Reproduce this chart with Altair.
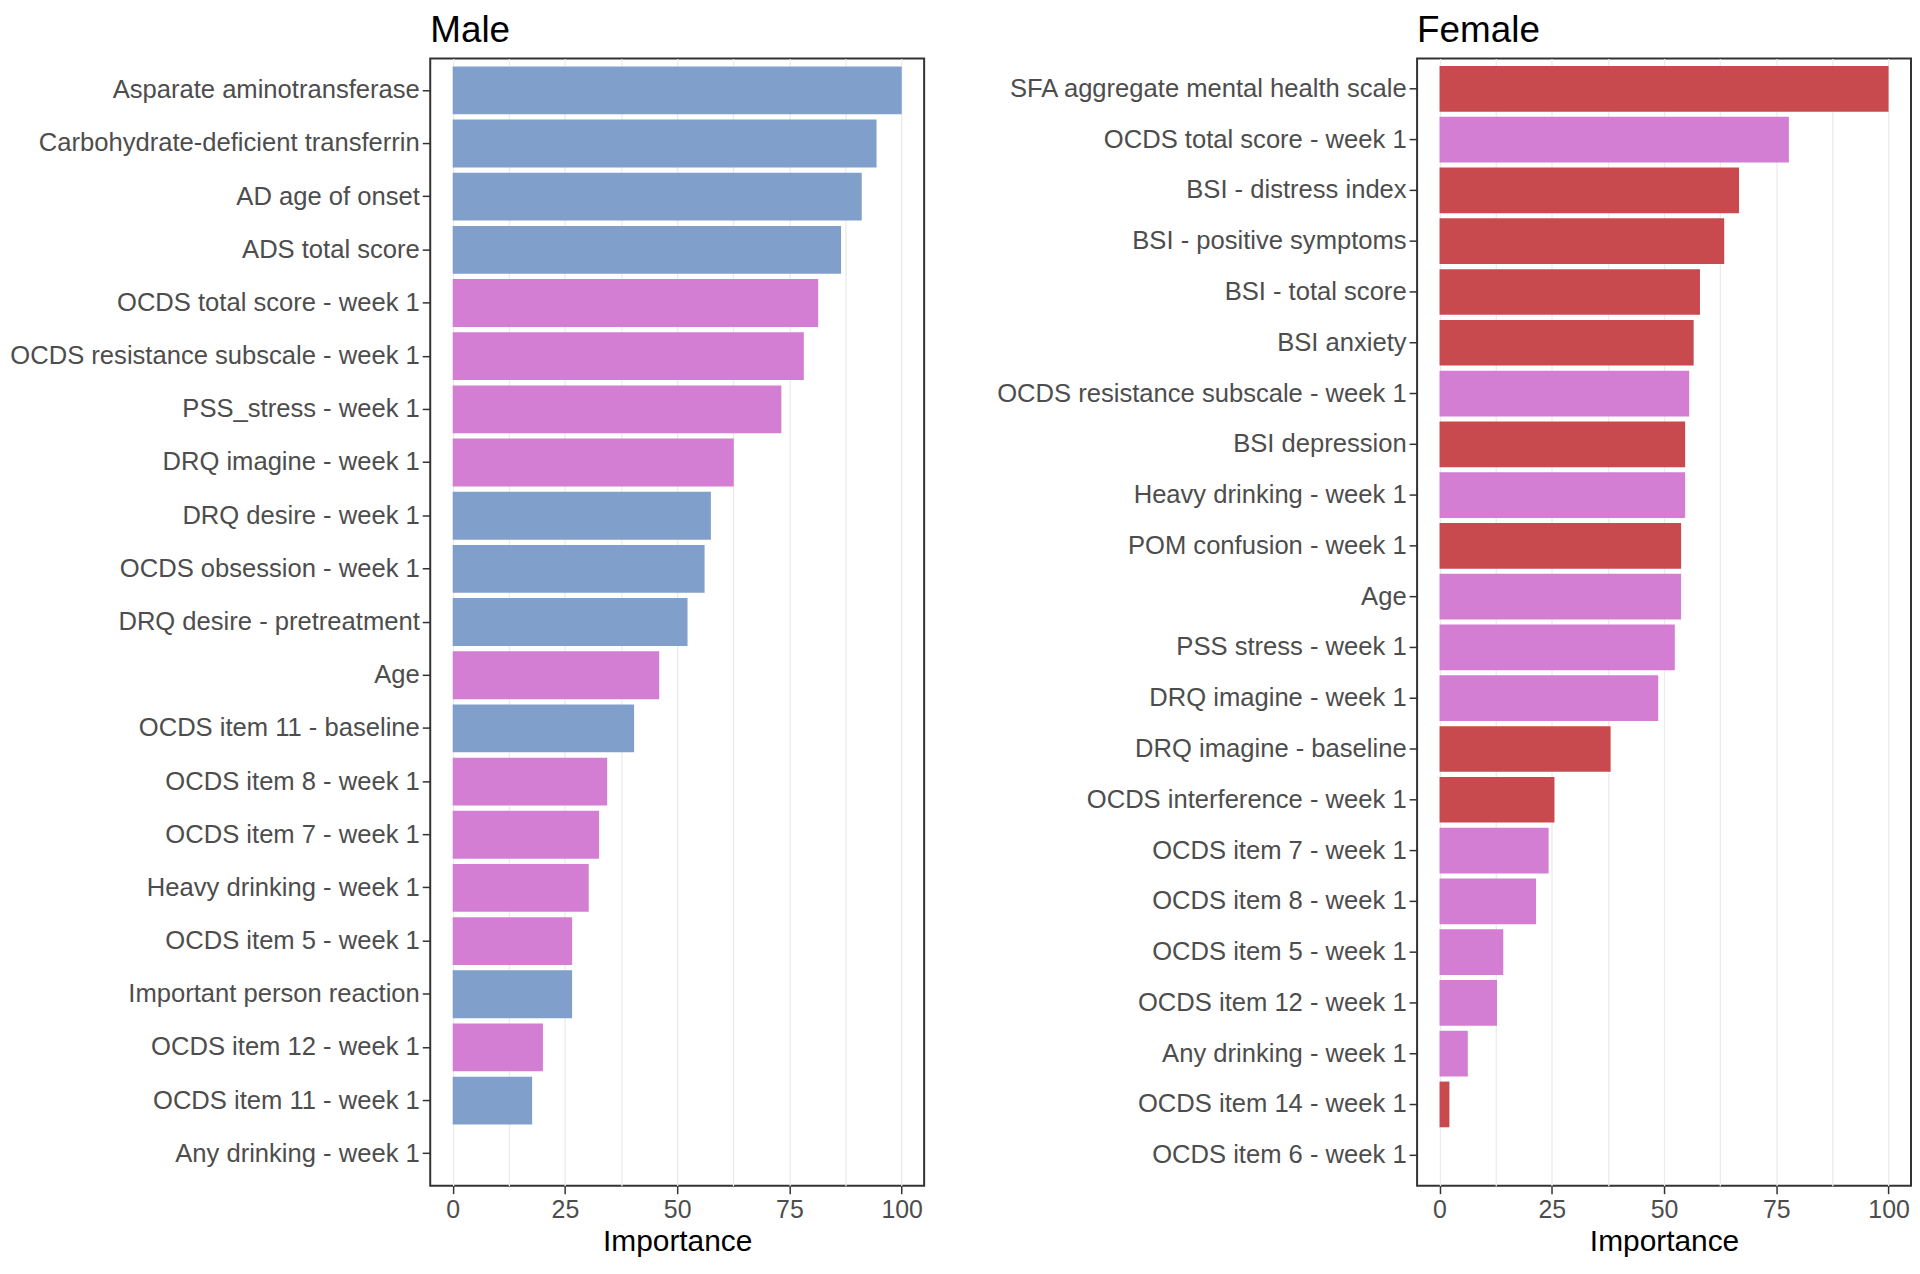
import altair as alt
import pandas as pd

male_features = [
    "Asparate aminotransferase", "Carbohydrate-deficient transferrin", "AD age of onset",
    "ADS total score", "OCDS total score - week 1", "OCDS resistance subscale - week 1",
    "PSS_stress - week 1", "DRQ imagine - week 1", "DRQ desire - week 1",
    "OCDS obsession - week 1", "DRQ desire - pretreatment", "Age", "OCDS item 11 - baseline",
    "OCDS item 8 - week 1", "OCDS item 7 - week 1", "Heavy drinking - week 1",
    "OCDS item 5 - week 1", "Important person reaction", "OCDS item 12 - week 1",
    "OCDS item 11 - week 1", "Any drinking - week 1",
]
male_importance = [100, 94.4, 91.1, 86.5, 81.4, 78.2, 73.2, 62.6, 57.5, 56.1, 52.3, 46.0,
                   40.4, 34.4, 32.6, 30.3, 26.6, 26.6, 20.1, 17.7, 0]
male_group = ["blue", "blue", "blue", "blue", "pink", "pink", "pink", "pink", "blue", "blue",
              "blue", "pink", "blue", "pink", "pink", "pink", "pink", "blue", "pink", "blue", "blue"]

female_features = [
    "SFA aggregate mental health scale", "OCDS total score - week 1", "BSI - distress index",
    "BSI - positive symptoms", "BSI - total score", "BSI anxiety",
    "OCDS resistance subscale - week 1", "BSI depression", "Heavy drinking - week 1",
    "POM confusion - week 1", "Age", "PSS stress - week 1", "DRQ imagine - week 1",
    "DRQ imagine - baseline", "OCDS interference - week 1", "OCDS item 7 - week 1",
    "OCDS item 8 - week 1", "OCDS item 5 - week 1", "OCDS item 12 - week 1",
    "Any drinking - week 1", "OCDS item 14 - week 1", "OCDS item 6 - week 1",
]
female_importance = [100, 77.8, 66.7, 63.4, 58.0, 56.6, 55.6, 54.7, 54.7, 53.8, 53.8, 52.4,
                     48.7, 38.1, 25.6, 24.3, 21.5, 14.2, 12.8, 6.3, 2.2, 0]
female_group = ["red", "pink", "red", "red", "red", "red", "pink", "red", "pink", "red", "pink",
                "pink", "pink", "red", "red", "pink", "pink", "pink", "pink", "pink", "red", "red"]

x_ticks = [0, 12.5, 25, 37.5, 50, 62.5, 75, 87.5, 100]

FONT = "Liberation Sans"
W, H = 496, 1132


def panel(title, feats, vals, groups):
    df = pd.DataFrame({"Feature": feats, "Importance": vals, "Group": groups})
    return alt.Chart(df, title=alt.TitleParams(
        title, anchor="start", frame="group", fontSize=37, font=FONT,
        fontWeight="normal", color="black", offset=8)).mark_bar().encode(
        x=alt.X("Importance:Q",
                scale=alt.Scale(domain=[-5, 105], nice=False, zero=False),
                axis=alt.Axis(values=x_ticks, grid=True, gridColor="#EBEBEB", gridWidth=1.3,
                              labelExpr="datum.value % 25 === 0 ? datum.label : ''",
                              tickColor={"condition": {"test": "datum.value % 25 === 0", "value": "#333333"},
                                         "value": "transparent"},
                              tickSize=8, tickWidth=1.5, domain=False,
                              labelFontSize=25, labelColor="#4D4D4D", labelFont=FONT, labelPadding=4,
                              title="Importance", titleFontSize=30, titleFont=FONT,
                              titleFontWeight="normal", titleColor="black", titlePadding=4)),
        y=alt.Y("Feature:N", sort=feats,
                scale=alt.Scale(paddingInner=0.1, paddingOuter=0.15),
                axis=alt.Axis(title=None, domain=False, grid=False, tickSize=8, tickWidth=1.5,
                              tickColor="#333333", labelFontSize=25.7, labelColor="#4D4D4D",
                              labelFont=FONT, labelPadding=3, labelLimit=1000)),
        color=alt.Color("Group:N",
                        scale=alt.Scale(domain=["blue", "pink", "red"],
                                        range=["#809FCB", "#D37DD3", "#C84A4F"]),
                        legend=None),
    ).properties(width=W, height=H)


male = panel("Male", male_features, male_importance, male_group)
female = panel("Female", female_features, female_importance, female_group)

chart = alt.hconcat(male, female, spacing=70).properties(
    padding={"left": 0, "top": 1, "right": 0, "bottom": 0}).configure_view(
    stroke="#333333", strokeWidth=2)

chart.save("out.html", embed_options={"renderer": "svg", "actions": False})
